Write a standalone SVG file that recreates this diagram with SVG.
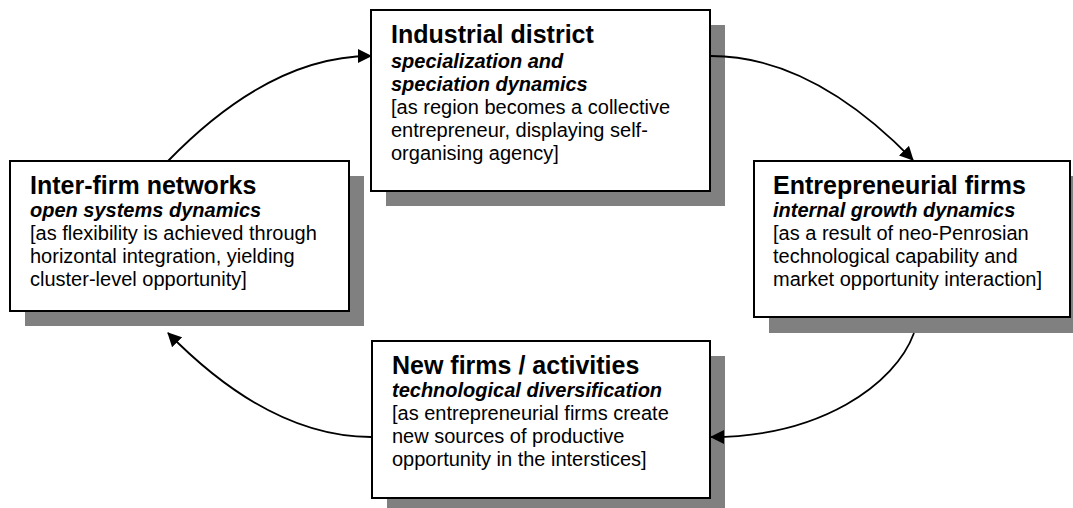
<svg xmlns="http://www.w3.org/2000/svg" width="1073" height="508" viewBox="0 0 1073 508">
<style>
.shadow{fill:#808080;stroke:none}
.box{fill:#ffffff;stroke:#000000;stroke-width:2}
text{font-family:"Liberation Sans",Arial,Helvetica,sans-serif;fill:#000000}
.t{font-size:25px;font-weight:bold}
.s{font-size:20px;font-weight:bold;font-style:italic}
.b{font-size:20px}
.conn{fill:none;stroke:#000000;stroke-width:1.8}
</style>
<defs>
<marker id="arrow" markerUnits="userSpaceOnUse" markerWidth="14" markerHeight="14" viewBox="0 0 14 14" refX="13" refY="7" orient="auto">
<path d="M0,0 L14,7 L0,14 z" fill="#000000"/>
</marker>
</defs>
<rect width="1073" height="508" fill="#ffffff"/>
<g id="industrial-district">
<rect class="shadow" x="386" y="25" width="339" height="181"/>
<rect class="box" x="371" y="10" width="339" height="181"/>
<text class="t" x="391" y="43">Industrial district</text>
<text class="s" x="391" y="68">specialization and</text>
<text class="s" x="391" y="91">speciation dynamics</text>
<text class="b" x="391" y="114">[as region becomes a collective</text>
<text class="b" x="391" y="137">entrepreneur, displaying self-</text>
<text class="b" x="391" y="160">organising agency]</text>
</g>
<g id="inter-firm-networks">
<rect class="shadow" x="25" y="176" width="339" height="150"/>
<rect class="box" x="10" y="161" width="339" height="150"/>
<text class="t" x="30" y="194">Inter-firm networks</text>
<text class="s" x="30" y="217">open systems dynamics</text>
<text class="b" x="30" y="240">[as flexibility is achieved through</text>
<text class="b" x="30" y="263">horizontal integration, yielding</text>
<text class="b" x="30" y="286">cluster-level opportunity]</text>
</g>
<g id="entrepreneurial-firms">
<rect class="shadow" x="769" y="176" width="316" height="157"/>
<rect class="box" x="754" y="161" width="316" height="156"/>
<text class="t" x="773" y="194">Entrepreneurial firms</text>
<text class="s" x="773" y="217">internal growth dynamics</text>
<text class="b" x="773" y="240">[as a result of neo-Penrosian</text>
<text class="b" x="773" y="263">technological capability and</text>
<text class="b" x="773" y="286">market opportunity interaction]</text>
</g>
<g id="new-firms">
<rect class="shadow" x="387" y="356" width="338" height="157"/>
<rect class="box" x="372" y="341" width="338" height="157"/>
<text class="t" x="392" y="374">New firms / activities</text>
<text class="s" x="392" y="397">technological diversification</text>
<text class="b" x="392" y="420">[as entrepreneurial firms create</text>
<text class="b" x="392" y="443">new sources of productive</text>
<text class="b" x="392" y="466">opportunity in the interstices]</text>
</g>
<g id="connectors">
<path class="conn" d="M168,161 Q270,56 371,56" marker-end="url(#arrow)"/>
<path class="conn" d="M711,56 Q812,56 913,160" marker-end="url(#arrow)"/>
<path class="conn" d="M914,333 C895,385 820,437 711,437" marker-end="url(#arrow)"/>
<path class="conn" d="M371,437 Q270,437 168,333" marker-end="url(#arrow)"/>
</g>
</svg>
